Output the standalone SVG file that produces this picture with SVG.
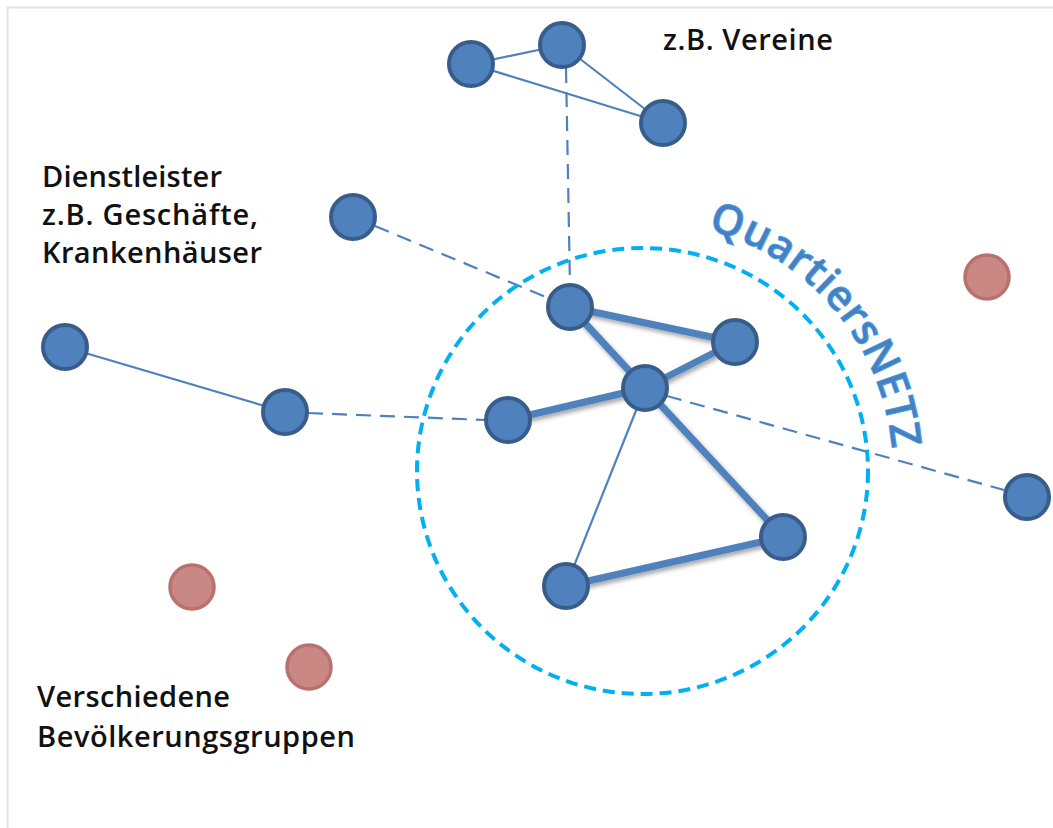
<svg xmlns="http://www.w3.org/2000/svg" width="1053" height="828" viewBox="0 0 1053 828">
<style>
.node{fill:#4f81bd;stroke:#385d8a;stroke-width:4}
.pink{fill:#c98884;stroke:#b9716e;stroke-width:3.5}
.thin{stroke:#4f81bd;stroke-width:2.2;fill:none}
.dash{stroke:#4f81bd;stroke-width:2.2;fill:none;stroke-dasharray:15 9}
.thick{stroke:#4f81bd;stroke-width:7;fill:none;filter:url(#sh)}
.lbl{font-family:"Open Sans","Noto Sans",sans-serif;font-weight:600;font-size:29px;fill:#111}
</style>
<defs>
<filter id="sh" x="-20%" y="-20%" width="140%" height="140%">
<feDropShadow dx="2" dy="3" stdDeviation="2" flood-color="#000" flood-opacity="0.35"/>
</filter>
<path id="arc" d="M 707.7 229.5 A 250 250 0 0 1 892.4 453.6"/>
</defs>
<rect width="1053" height="828" fill="#fff"/>
<path d="M7.5 828 V7.5 H1053" fill="none" stroke="#e3e3e3" stroke-width="2"/>
<g id="connectors">
<line class="thin" x1="471" y1="64" x2="562" y2="45"/>
<line class="thin" x1="562" y1="45" x2="663" y2="123"/>
<line class="thin" x1="471" y1="64" x2="663" y2="123"/>
<line class="thin" x1="65" y1="347" x2="285" y2="412"/>
<line class="thin" x1="645" y1="388" x2="566" y2="586"/>
<line class="dash" x1="566" y1="68" x2="570" y2="286"/>
<line class="dash" x1="375" y1="226" x2="548" y2="298"/>
<line class="dash" x1="308" y1="413" x2="486" y2="420"/>
<line class="dash" x1="667" y1="396" x2="1004" y2="490"/>
<line class="thick" x1="570" y1="307" x2="735" y2="342"/>
<line class="thick" x1="570" y1="307" x2="645" y2="388"/>
<line class="thick" x1="645" y1="388" x2="735" y2="342"/>
<line class="thick" x1="645" y1="388" x2="508" y2="420"/>
<line class="thick" x1="645" y1="388" x2="783" y2="537"/>
<line class="thick" x1="783" y1="537" x2="566" y2="586"/>
</g>
<g id="quartier-circle">
<ellipse cx="642.5" cy="471" rx="225.5" ry="223" fill="none" stroke="#00b0f0" stroke-width="4" stroke-dasharray="12 7"/>
</g>
<g id="quartiersnetz-label">
<text font-family="'Open Sans','Noto Sans',sans-serif" font-weight="600" font-size="42" fill="#4a7ebf" stroke="#3a9ddf" stroke-width="1"><textPath href="#arc" textLength="305">QuartiersNETZ</textPath></text>
</g>
<g id="n-a"><circle class="node" cx="471" cy="64" r="22"/></g>
<g id="n-b"><circle class="node" cx="562" cy="45" r="22"/></g>
<g id="n-c"><circle class="node" cx="663" cy="123" r="22"/></g>
<g id="n-d"><circle class="node" cx="353" cy="217" r="22"/></g>
<g id="n-e"><circle class="node" cx="570" cy="307" r="22"/></g>
<g id="n-f"><circle class="node" cx="735" cy="342" r="22"/></g>
<g id="n-g"><circle class="node" cx="645" cy="388" r="22"/></g>
<g id="n-h"><circle class="node" cx="508" cy="420" r="22"/></g>
<g id="n-i"><circle class="node" cx="285" cy="412" r="22"/></g>
<g id="n-j"><circle class="node" cx="65" cy="347" r="22"/></g>
<g id="n-k"><circle class="node" cx="1027" cy="497" r="22"/></g>
<g id="n-l"><circle class="node" cx="783" cy="537" r="22"/></g>
<g id="n-m"><circle class="node" cx="566" cy="586" r="22"/></g>
<g id="p-1"><circle class="pink" cx="987" cy="277" r="22"/></g>
<g id="p-2"><circle class="pink" cx="192" cy="587" r="22"/></g>
<g id="p-3"><circle class="pink" cx="309" cy="667" r="22"/></g>
<g id="label-vereine"><text class="lbl" x="663" y="50" textLength="170">z.B. Vereine</text></g>
<g id="label-dienstleister">
<text class="lbl" x="42" y="187" textLength="180">Dienstleister</text>
<text class="lbl" x="42" y="225" textLength="216">z.B. Geschäfte,</text>
<text class="lbl" x="42" y="263" textLength="220">Krankenhäuser</text>
</g>
<g id="label-gruppen">
<text class="lbl" x="37" y="707" textLength="193">Verschiedene</text>
<text class="lbl" x="37" y="747" textLength="318">Bevölkerungsgruppen</text>
</g>
</svg>
